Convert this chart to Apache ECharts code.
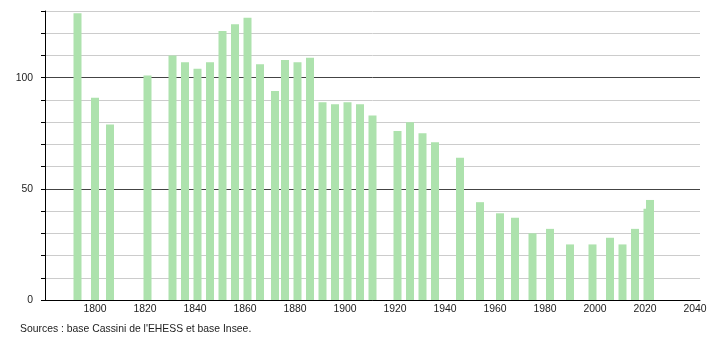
<!DOCTYPE html>
<html>
<head>
<meta charset="utf-8">
<script src="https://cdn.jsdelivr.net/npm/echarts@6/dist/echarts.min.js"></script>
<style>
html,body{margin:0;padding:0;background:#fff;}
#c{width:710px;height:340px;}
</style>
</head>
<body>
<div id="c"></div>
<script>
const years = [1793,1800,1806,1821,1831,1836,1841,1846,1851,1856,1861,1866,1872,1876,1881,1886,1891,1896,1901,1906,1911,1921,1926,1931,1936,1946,1954,1962,1968,1975,1982,1990,1999,2006,2011,2016,2021,2022];
const population = [129,91,79,101,110,107,104,107,121,124,127,106,94,108,107,109,89,88,89,88,83,76,80,75,71,64,44,39,37,30,32,25,25,28,25,32,41,45];
const yLabels = [0,50,100];
const sourceText = "Sources : base Cassini de l'EHESS et base Insee.";

const FONT = '"Liberation Sans", Arial, sans-serif';
const FS = 10.4;
const chart = echarts.init(document.getElementById('c'), null, {renderer: 'canvas'});
chart.setOption({
  animation: false,
  backgroundColor: '#fff',
  grid: {left: 45, right: 10, top: 11, bottom: 40, containLabel: false},
  xAxis: {
    type: 'value', min: 1780, max: 2042, interval: 20,
    axisLine: {show: true, lineStyle: {color: '#000', width: 1}},
    axisTick: {show: false},
    splitLine: {show: false},
    axisLabel: {
      margin: 4, fontSize: FS, color: '#222', fontFamily: FONT,
      formatter: v => (v >= 1800 && v % 20 === 0) ? String(v) : ''
    }
  },
  yAxis: {
    type: 'value', min: 0, max: 130, interval: 10,
    axisLine: {show: true, onZero: false, lineStyle: {color: '#000', width: 1}},
    axisTick: {show: true, length: 4, lineStyle: {color: '#000'}},
    splitLine: {show: true, lineStyle: {color: ['#444','#ccc','#ccc','#ccc','#ccc'], width: 1}},
    axisLabel: {
      margin: 12, fontSize: FS, color: '#222', fontFamily: FONT,
      formatter: v => yLabels.includes(v) ? String(v) : ''
    }
  },
  series: [{
    type: 'bar',
    barWidth: 8,
    data: years.map((y, i) => [y, population[i]]),
    itemStyle: {color: '#ade2ad'}
  }],
  graphic: [{
    type: 'text', left: 20, top: 324,
    style: {text: sourceText, fill: '#222', font: FS + 'px ' + FONT}
  }]
});
</script>
</body>
</html>
